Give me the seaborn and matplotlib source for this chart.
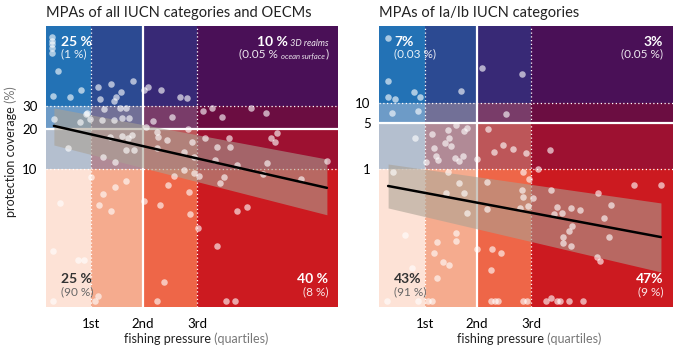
import numpy as np
import matplotlib.pyplot as plt
import seaborn as sns

sns.set_theme(style="white")
plt.rcParams["font.family"] = ["Lato", "DejaVu Sans"]

# Fishing pressure on a 0-100 scale, quartile breaks:
quartiles = [15.5, 33.2, 51.7]
quartile_labels = ["1st", "2nd", "3rd"]

# Background colours (rows: high -> low protection, cols: low -> high fishing):
bg_colors = [
    ["#2372b5", "#2c4a92", "#382976", "#4a1057"],
    ["#6d9bc7", "#727097", "#793c69", "#6b0d41"],
    ["#b4bfcf", "#b18a96", "#bd5659", "#9d1131"],
    ["#fde2d6", "#f5ab8e", "#ee6648", "#cc1a20"],
]

# Panel 1: MPAs of all IUCN categories and OECMs
all_x = [2.1, 2.1, 2.1, 2.1, 2.1, 4.1, 12.0, 2.4, 8.2, 17.8, 22.3, 29.8, 25.7, 24.0,
         18.5, 23.3, 33.6, 34.9, 39.4, 45.9, 48.3, 19.9, 27.4, 14.0, 56.8, 60.3, 70.2,
         75.3, 2.7, 11.6, 13.7, 15.1, 7.5, 25.3, 19.2, 23.3, 26.0, 28.4, 21.9, 26.0,
         28.1, 29.5, 27.4, 30.1, 19.5, 23.6, 34.2, 36.6, 38.4, 38.0, 41.4, 43.2, 48.6,
         50.0, 47.3, 38.0, 50.7, 53.8, 54.5, 58.6, 62.7, 63.0, 77.1, 78.4, 79.1, 57.9,
         75.7, 96.2, 4.8, 18.2, 19.5, 22.3, 23.6, 27.4, 15.4, 33.6, 39.0, 41.8, 43.8,
         47.3, 49.0, 49.3, 50.7, 52.4, 52.1, 59.6, 61.0, 65.4, 65.4, 68.8, 87.3, 74.3,
         2.4, 11.0, 13.0, 2.4, 17.8, 16.8, 40.4, 38.0, 58.6, 61.6, 64.7]
all_y = [100, 93, 88, 82, 76, 55, 40, 36, 35, 42, 44, 46, 38, 35,
         34, 33, 40, 42, 40, 35, 34.5, 28.5, 29, 26.6, 29, 24.8, 29,
         26.6, 24, 22.7, 26, 24, 14.4, 29, 23.5, 23.5, 24.3, 24.3, 17.5, 17.8,
         17.2, 18.1, 13.9, 13.9, 12.3, 11.3, 20.8, 23.1, 17.5, 19.1, 16.6, 24.8, 20.1,
         16.0, 13.5, 14.4, 12.3, 27.5, 17.2, 14.7, 17.2, 14.7, 17.2, 16.0, 18.7, 11.7,
         11.1, 11.5, 5.5, 5.3, 6.5, 4.8, 7.3, 8.1, 8.7, 5.7, 5.3, 7.6, 8.9,
         9.8, 6.7, 4.6, 9.3, 8.9, 3.6, 7.8, 8.7, 10.7, 4.8, 5.2, 8.4, 9.2,
         2.4, 2.05, 2.05, 1.0, 1.1, 1.0, 1.4, 1.0, 2.6, 1.0, 1.0]
# fitted trend (coverage %) at the ends of the fishing range, with its band
all_fit_x = [2.7, 96.2]
all_fit = [21.2, 7.2]
all_fit_lo = [15.2, 4.5]
all_fit_hi = [29.0, 11.9]

# Panel 2: MPAs of Ia/Ib IUCN categories
strict_x = [3.1, 3.1, 3.1, 5.4, 11.9, 13.9, 27.9, 35.0, 48.6, 4.4, 13.3, 43.2,
            12.2, 18.0, 23.5, 26.2, 29.9, 28.9, 23.8, 22.4, 24.5, 18.7, 19.4, 20.1,
            25.9, 27.2, 28.6, 16.0, 33.3, 37.1, 39.1, 42.2, 45.6, 50.0, 58.2, 54.1,
            49.0, 51.0, 23.5, 4.8, 27.2, 36.7, 28.9, 22.8, 29.9, 48.6, 49.0, 52.4,
            50.7, 48.0, 58.5, 74.5, 86.7, 95.9, 36.7, 60.5, 62.2, 65.3, 68.4, 59.5,
            78.9, 76.5, 65.6, 64.6, 62.6, 78.2, 8.8, 26.2, 11.2, 19.7, 18.7, 19.7,
            21.8, 23.8, 26.2, 33.3, 38.4, 41.5, 38.1, 62.6, 65.3, 74.1, 75.2,
            2.7, 13.3, 16.7, 18.0, 38.1, 39.5, 40.5, 49.0, 50.3, 56.8, 58.5, 60.5,
            61.6, 64.6, 69.4]
strict_y = [97, 21.5, 12.3, 11.5, 14.7, 12.3, 15.2, 34, 27.5, 7.0, 7.6, 6.8,
            2.95, 3.4, 3.9, 4.6, 4.2, 3.8, 2.95, 2.5, 2.2, 2.1, 1.57, 1.37,
            1.47, 1.32, 1.57, 1.28, 1.42, 4.0, 1.8, 2.3, 2.0, 1.75, 1.94, 1.0,
            0.90, 0.70, 0.90, 0.90, 0.61, 0.64, 0.43, 0.43, 0.215, 0.48, 0.38, 0.36,
            0.275, 0.26, 0.48, 0.43, 0.57, 0.57, 0.25, 0.265, 0.215, 0.26, 0.24, 0.21,
            0.285, 0.18, 0.137, 0.115, 0.093, 0.093, 0.10, 0.107, 0.032, 0.022, 0.053, 0.078,
            0.039, 0.035, 0.081, 0.061, 0.061, 0.053, 0.030, 0.076, 0.068, 0.046, 0.040,
            0.01, 0.01, 0.01, 0.01, 0.01, 0.01, 0.01, 0.01, 0.01, 0.01, 0.011, 0.01,
            0.01, 0.01, 0.01]
strict_fit_x = [3.1, 95.9]
strict_fit = [0.553, 0.093]
strict_fit_lo = [0.257, 0.0275]
strict_fit_hi = [1.19, 0.306]


def chain(ax, parts, x, y, ha):
    # parts: list of (text, kwargs); written left->right, anchored at x (left or right)
    if ha == "left":
        t = ax.text(x, y, parts[0][0], transform=ax.transAxes, ha="left",
                    va="baseline", zorder=6, **parts[0][1])
        for s, kw in parts[1:]:
            t = ax.annotate(s, xy=(1, 0), xycoords=t, ha="left", va="bottom",
                            zorder=6, annotation_clip=False, **kw)
    else:
        t = ax.text(x, y, parts[-1][0], transform=ax.transAxes, ha="right",
                    va="baseline", zorder=6, **parts[-1][1])
        for s, kw in parts[-2::-1]:
            t = ax.annotate(s, xy=(0, 0), xycoords=t, ha="right", va="bottom",
                            zorder=6, annotation_clip=False, **kw)


def draw_panel(ax, x, y, fit, title, cuts, ylim, notes):
    fx, fy, flo, fhi = fit
    ylog = np.log10(y)
    xedges = [0] + quartiles + [100]
    yedges = [ylim[1]] + list(np.log10(cuts[::-1])) + [ylim[0]]
    for r in range(4):
        for c in range(4):
            ax.fill_between([xedges[c], xedges[c + 1]], yedges[r + 1], yedges[r],
                            color=bg_colors[r][c], lw=0, zorder=0)
    for i, q in enumerate(quartiles):
        ax.axvline(q, color="white", lw=1.6 if i == 1 else 0.9,
                   ls="-" if i == 1 else (0, (1, 2)), zorder=1)
    for i, cval in enumerate(cuts):
        ax.axhline(np.log10(cval), color="white", lw=1.6 if i == 1 else 0.9,
                   ls="-" if i == 1 else (0, (1, 2)), zorder=1)

    # trend band and line
    ax.fill_between(fx, np.log10(flo), np.log10(fhi), color="#aaa193",
                    alpha=0.58, lw=0, zorder=2)
    sns.scatterplot(x=x, y=ylog, ax=ax, color="white", alpha=0.62, s=22,
                    linewidth=0, zorder=3, legend=False)
    sns.lineplot(x=fx, y=np.log10(fy), ax=ax, color="black", lw=1.8, zorder=4)

    ax.set_xlim(0, 100)
    ax.set_ylim(*ylim)
    ax.set_xticks(quartiles, quartile_labels)
    ax.set_yticks(np.log10(cuts), [f"{c:g}" for c in cuts])
    ax.tick_params(length=0, labelsize=9.5, colors="black")
    ax.tick_params(axis="x", pad=8)
    ax.tick_params(axis="y", pad=6)
    ax.set_xlabel("")
    ax.set_ylabel("")
    ax.spines[["bottom", "top", "left", "right"]].set_visible(False)
    ax.set_title(title, loc="left", fontsize=10.5, pad=6.5, color="#222222")

    bold_w = dict(color="white", fontweight="bold", fontsize=10)
    light_w = dict(color="white", fontsize=8.5, alpha=0.9)
    bold_d = dict(color="#333333", fontweight="bold", fontsize=10)
    light_d = dict(color="#666666", fontsize=8.5)
    chain(ax, [(notes["tl"][0], bold_w)], 0.051, 0.929, "left")
    chain(ax, [(notes["tl"][1], light_w)], 0.051, 0.890, "left")
    chain(ax, [(notes["bl"][0], bold_d)], 0.051, 0.085, "left")
    chain(ax, [(notes["bl"][1], light_d)], 0.051, 0.043, "left")
    chain(ax, [(notes["br"][0], bold_w)], 0.967, 0.085, "right")
    chain(ax, [(notes["br"][1], light_w)], 0.967, 0.043, "right")
    if len(notes["tr"]) == 2:
        chain(ax, [(notes["tr"][0], bold_w)], 0.967, 0.929, "right")
        chain(ax, [(notes["tr"][1], light_w)], 0.967, 0.890, "right")
    else:
        small = dict(color="white", fontsize=6.5, style="italic", alpha=0.9)
        tiny = dict(color="white", fontsize=5.5, style="italic", alpha=0.9)
        chain(ax, [(notes["tr"][0], bold_w), (notes["tr"][1], small)],
              0.967, 0.929, "right")
        chain(ax, [(notes["tr"][2], light_w), (notes["tr"][3], tiny),
                   (notes["tr"][4], light_w)], 0.967, 0.890, "right")

    # x label in two tones
    chain(ax, [("fishing pressure", dict(color="#222222", fontsize=9)),
               (" (quartiles)", dict(color="#777777", fontsize=9))],
          0.267, -0.128, "left")


fig = plt.figure(figsize=(6.85, 3.48), dpi=100)
ax1 = fig.add_axes([46 / 685, 1 - 307 / 348, 292 / 685, 281 / 348])
ax2 = fig.add_axes([379 / 685, 1 - 307 / 348, 294 / 685, 281 / 348])

draw_panel(ax1, all_x, all_y, (all_fit_x, all_fit, all_fit_lo, all_fit_hi),
           "MPAs of all IUCN categories and OECMs",
           [10, 20, 30], (-0.045, 2.083),
           {"tl": ("25 %", "(1 %)"),
            "tr": ("10 %", " 3D realms", "(0.05 % ", "ocean surface", ")"),
            "bl": ("25 %", "(90 %)"),
            "br": ("40 %", "(8 %)")})
draw_panel(ax2, strict_x, strict_y,
           (strict_fit_x, strict_fit, strict_fit_lo, strict_fit_hi),
           "MPAs of Ia/Ib IUCN categories",
           [1, 5, 10], (-2.091, 2.167),
           {"tl": ("7%", "(0.03 %)"),
            "tr": ("3%", "(0.05 %)"),
            "bl": ("43%", "(91 %)"),
            "br": ("47%", "(9 %)")})

# y label in two tones
t = fig.text(11 / 685, 1 - 217 / 348, "protection coverage", rotation=90,
             ha="center", va="bottom", fontsize=9, color="#222222")
ax1.annotate(" (%)", xy=(0.5, 1), xycoords=t, rotation=90, ha="center",
             va="bottom", fontsize=9, color="#777777", annotation_clip=False)

fig.savefig("out.png", dpi=100)
